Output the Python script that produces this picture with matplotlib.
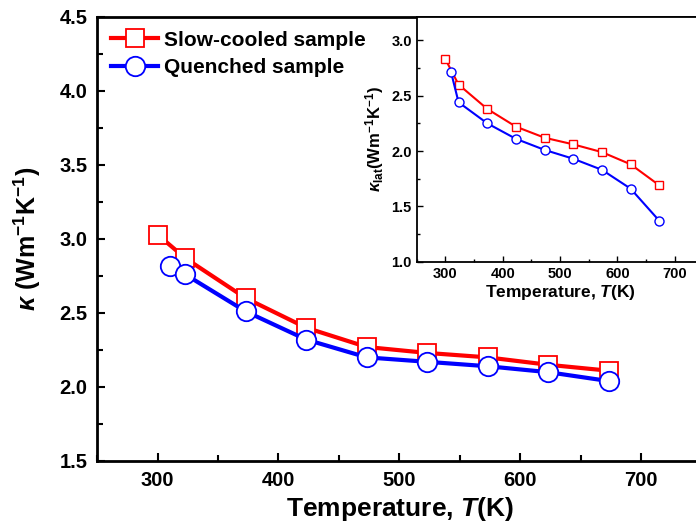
import matplotlib.pyplot as plt
import numpy as np

plt.rcParams['font.family'] = ['Liberation Sans', 'DejaVu Sans']
plt.rcParams['font.weight'] = 'bold'
plt.rcParams['mathtext.fontset'] = 'custom'
plt.rcParams['mathtext.rm'] = 'Liberation Sans:bold'
plt.rcParams['mathtext.it'] = 'Liberation Sans:bold:italic'
plt.rcParams['mathtext.bf'] = 'Liberation Sans:bold'

# main panel: total thermal conductivity
T_slow = [300, 323, 373, 423, 473, 523, 573, 623, 673]
k_slow = [3.03, 2.87, 2.60, 2.40, 2.27, 2.23, 2.20, 2.15, 2.11]
T_quen = [310, 323, 373, 423, 473, 523, 573, 623, 673]
k_quen = [2.82, 2.76, 2.51, 2.32, 2.20, 2.17, 2.14, 2.10, 2.04]

# inset: lattice thermal conductivity
klat_slow = [2.83, 2.60, 2.38, 2.22, 2.12, 2.06, 1.99, 1.88, 1.69]
klat_quen = [2.71, 2.44, 2.25, 2.11, 2.01, 1.93, 1.83, 1.66, 1.37]

red = '#ff0000'
blue = '#0000ff'

fig = plt.figure(figsize=(6.96, 5.32), dpi=100)

ax = fig.add_axes([0.1394, 0.1335, 0.869, 0.8346])
ax.plot(T_slow, k_slow, '-s', color=red, lw=3, ms=13, mfc='white', mec=red,
        mew=1.3, label='Slow-cooled sample')
ax.plot(T_quen, k_quen, '-o', color=blue, lw=3, ms=14, mfc='white', mec=blue,
        mew=1.3, label='Quenched sample')
ax.set_xlim(250, 750)
ax.set_ylim(1.5, 4.5)
ax.set_xticks([300, 400, 500, 600, 700])
ax.set_xticks(np.arange(250, 751, 50), minor=True)
ax.set_yticks([1.5, 2.0, 2.5, 3.0, 3.5, 4.0, 4.5])
ax.set_yticks(np.arange(1.5, 4.51, 0.25), minor=True)
ax.tick_params(which='both', direction='in', labelsize=14.5, width=1.5)
ax.tick_params(which='major', length=6, pad=7)
ax.tick_params(which='minor', length=4)
for s in ax.spines.values():
    s.set_linewidth(2)
ax.set_xlabel('Temperature, $\\it{T}$(K)', fontsize=19, fontweight='bold', labelpad=4)
ax.set_ylabel('$\\kappa$ (Wm$^{-1}$K$^{-1}$)', fontsize=18, fontweight='bold', labelpad=12)
ax.legend(loc='upper left', frameon=False, fontsize=15, handlelength=2.3,
          handletextpad=0.25, borderaxespad=0.25, labelspacing=0.4,
          bbox_to_anchor=(0.0, 1.0))

ins = fig.add_axes([0.5987, 0.508, 0.412, 0.460])
ins.plot(T_slow, klat_slow, '-s', color=red, lw=1.5, ms=6, mfc='white', mec=red, mew=1)
ins.plot(T_quen, klat_quen, '-o', color=blue, lw=1.5, ms=6.5, mfc='white', mec=blue, mew=1)
ins.set_xlim(250, 750)
ins.set_ylim(1.0, 3.21)
ins.set_xticks([300, 400, 500, 600, 700])
ins.set_xticks(np.arange(250, 751, 50), minor=True)
ins.set_yticks([1.0, 1.5, 2.0, 2.5, 3.0])
ins.set_yticks(np.arange(1.0, 3.21, 0.25), minor=True)
ins.tick_params(which='both', direction='in', labelsize=10.5, width=1)
ins.tick_params(which='major', length=4)
ins.tick_params(which='minor', length=2.5)
for s in ins.spines.values():
    s.set_linewidth(1.3)
ins.set_xlabel('Temperature, $\\it{T}$(K)', fontsize=12.5, fontweight='bold', labelpad=2)
ins.set_ylabel('$\\kappa_{\\rm lat}$(Wm$^{-1}$K$^{-1}$)', fontsize=12, fontweight='bold', labelpad=4)

fig.savefig('out.png', dpi=100)
